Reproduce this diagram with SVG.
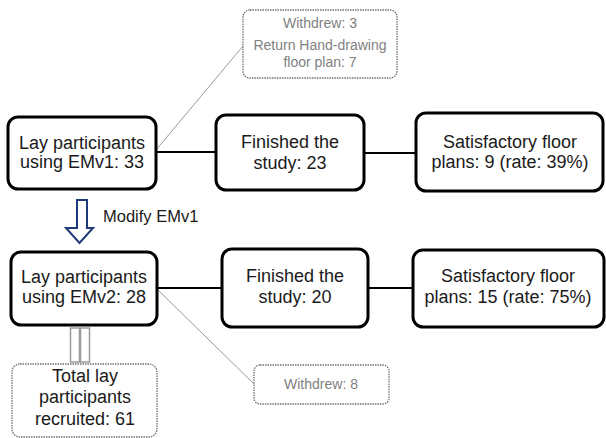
<svg xmlns="http://www.w3.org/2000/svg" width="606" height="438" viewBox="0 0 606 438">
<style>
.box{fill:#fff;stroke:#000;stroke-width:3}
.dbox{fill:#fff;stroke:#6f6f6f;stroke-width:1.3;stroke-dasharray:1.5 1}
.t{font-family:"Liberation Sans",Arial,sans-serif;font-size:18px;fill:#1a1a1a;text-anchor:middle}
.g{font-family:"Liberation Sans",Arial,sans-serif;font-size:14px;fill:#7f7f7f;text-anchor:middle}
.main{stroke:#000;stroke-width:2;fill:none}
.thin{stroke:#9a9a9a;stroke-width:1;fill:none}
</style>
<rect width="606" height="438" fill="#fff"/>
<g id="connectors">
<line class="main" x1="155" y1="152" x2="216" y2="152"/>
<line class="main" x1="364" y1="153" x2="416" y2="153"/>
<line class="main" x1="157" y1="288" x2="222" y2="288"/>
<line class="main" x1="368" y1="288" x2="413" y2="288"/>
<line class="thin" x1="156" y1="150" x2="243" y2="46"/>
<line class="thin" x1="158" y1="290" x2="254" y2="384"/>
<path id="modify-arrow" d="M77,200 H87 V228 H93 L79.5,243 L66,228 H77 Z" fill="#fff" stroke="#1f3a78" stroke-width="2" stroke-linejoin="miter"/>
<text x="103" y="222" font-family="Liberation Sans,Arial,sans-serif" font-size="16.5" fill="#1a1a1a">Modify EMv1</text>
<g id="double-arrow">
<rect x="70.5" y="328" width="9" height="34" fill="#fff" stroke="#9a9a9a" stroke-width="1.5"/>
<rect x="80.5" y="328" width="9" height="34" fill="#fff" stroke="#9a9a9a" stroke-width="1.5"/>
</g>
</g>
<g id="withdrew1">
<rect class="dbox" x="243" y="10" width="154" height="68" rx="7"/>
<text class="g" x="320" y="28">Withdrew: 3</text>
<text class="g" x="320" y="50">Return Hand-drawing</text>
<text class="g" x="320" y="67">floor plan: 7</text>
</g>
<g id="lay1">
<rect class="box" x="8" y="117" width="148" height="72" rx="10"/>
<text class="t" x="82" y="149">Lay participants</text>
<text class="t" x="82" y="168">using EMv1: 33</text>
</g>
<g id="finished1">
<rect class="box" x="216" y="115" width="148" height="75" rx="10"/>
<text class="t" x="290" y="148">Finished the</text>
<text class="t" x="290" y="169">study: 23</text>
</g>
<g id="satisfactory1">
<rect class="box" x="416" y="113" width="187" height="78" rx="10"/>
<text class="t" x="510" y="148">Satisfactory floor</text>
<text class="t" x="510" y="168">plans: 9 (rate: 39%)</text>
</g>
<g id="lay2">
<rect class="box" x="11" y="252" width="146" height="73" rx="10"/>
<text class="t" x="84" y="283">Lay participants</text>
<text class="t" x="84" y="303">using EMv2: 28</text>
</g>
<g id="finished2">
<rect class="box" x="222" y="249" width="146" height="78" rx="10"/>
<text class="t" x="295" y="282">Finished the</text>
<text class="t" x="295" y="303">study: 20</text>
</g>
<g id="satisfactory2">
<rect class="box" x="413" y="250" width="191" height="77" rx="10"/>
<text class="t" x="508" y="282">Satisfactory floor</text>
<text class="t" x="508" y="303">plans: 15 (rate: 75%)</text>
</g>
<g id="withdrew2">
<rect class="dbox" x="254" y="365" width="135" height="39" rx="6"/>
<text class="g" x="321" y="389">Withdrew: 8</text>
</g>
<g id="total">
<rect class="dbox" x="12" y="364" width="145" height="73" rx="8"/>
<text class="t" x="85" y="382" font-size="19">Total lay</text>
<text class="t" x="85" y="403" font-size="19">participants</text>
<text class="t" x="85" y="425" font-size="19">recruited: 61</text>
</g>
</svg>
